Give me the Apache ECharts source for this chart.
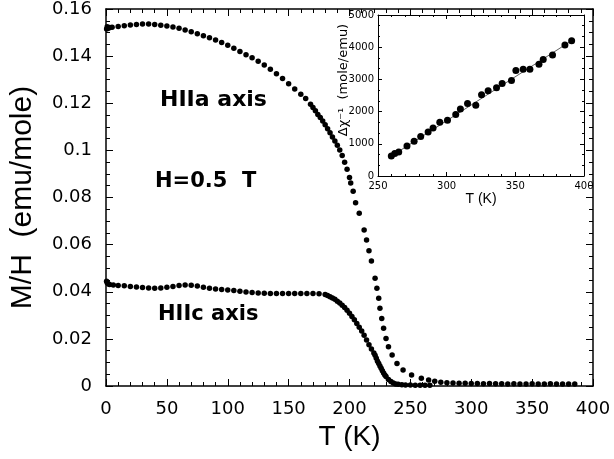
<!DOCTYPE html>
<html><head><meta charset="utf-8">
<script src="https://cdn.jsdelivr.net/npm/echarts@6/dist/echarts.min.js"></script>
<style>html,body{margin:0;padding:0;background:#fff}#c{width:614px;height:459px}</style>
</head><body><div id="c"></div>
<script>
// ---- data (T in K, M/H in emu/mole) ----
const haData = [
 [0.5,0.1515],[1,0.1525],[1.5,0.1520],[2,0.1518],[3,0.1522],[5,0.1523],[10,0.1526],[15,0.1529],[20,0.1532],[25,0.1534],
 [30,0.1536],[35,0.1536],[40,0.1534],[45,0.1531],[50,0.1528],[55,0.1524],[60,0.1518],[65,0.1511],[70,0.1503],[75,0.1495],
 [80,0.1487],[85,0.1478],[90,0.1468],[95,0.1458],[100,0.1446],[105,0.1433],[110,0.1420],[115,0.1406],[120,0.1393],[125,0.1378],
 [130,0.1362],[135,0.1344],[140,0.1325],[145,0.1305],[150,0.1283],[155,0.1260],[160,0.1238],[164,0.1220],[168,0.1196],[170,0.1182],
 [172,0.1168],[174,0.1152],[176,0.1139],[178,0.1125],[180,0.1109],[182,0.1092],[184,0.1075],[186,0.1057],[188,0.1040],[190,0.1022],
 [192,0.1002],[194,0.0978],[196,0.0950],[198,0.0920],[200,0.0885],[201,0.0862],[203,0.0827],[205,0.0778],[208,0.0733],[212,0.0662],
 [214,0.0620],[216,0.0574],[218,0.0531],[221,0.0457],[222.5,0.0415],[224,0.0372],[225,0.0330],[226.5,0.0287],[228,0.0245],[230,0.0202],
 [232,0.0167],[235,0.0132],[239,0.0096],[244,0.0068],[251,0.0047],[259,0.0033],[265,0.0025],[270,0.0020],[275,0.0016],[280,0.0014],
 [285,0.0013],[290,0.0012],[295,0.0012],[300,0.0011],[305,0.0011],[310,0.0010],[315,0.0011],[320,0.0010],[325,0.0010],[330,0.0009],
 [335,0.0010],[340,0.0009],[345,0.0009],[350,0.0010],[355,0.0009],[360,0.0009],[365,0.0010],[370,0.0009],[375,0.0009],[380,0.0009],[385,0.0008]
];
const hcData = [
 [0.5,0.0445],[1,0.0438],[2,0.0433],[3,0.0431],[6,0.0429],[10,0.0427],[15,0.0425],[20,0.0422],[25,0.0420],[30,0.0418],
 [35,0.0416],[40,0.0415],[45,0.0416],[50,0.0419],[55,0.0422],[60,0.0426],[65,0.0429],[70,0.0428],[75,0.0424],[80,0.0419],
 [85,0.0415],[90,0.0412],[95,0.0410],[100,0.0407],[105,0.0405],[110,0.0402],[115,0.0399],[120,0.0397],[125,0.0395],[130,0.0394],
 [135,0.0393],[140,0.0393],[145,0.0393],[150,0.0393],[155,0.0393],[160,0.0393],[165,0.0393],[170,0.0393],[175,0.0392],[180,0.0388],
 [182,0.0384],[184,0.0379],[186,0.0374],[188,0.0368],[190,0.0360],[192,0.0352],[194,0.0343],[196,0.0333],[198,0.0322],[200,0.0309],
 [202,0.0295],[204,0.0281],[206,0.0265],[208,0.0249],[210,0.0233],[212,0.0215],[214,0.0195],[216,0.0175],[218,0.0157],[220,0.0140],
 [221,0.0130],[222,0.0118],[223,0.0105],[224,0.0096],[225,0.0085],[226,0.0075],[227,0.0065],[228,0.0055],[229,0.0047],[230,0.0040],
 [232,0.0028],[234,0.0019],[236,0.0013],[238,0.0009],[240,0.0007],[243,0.0005],[246,0.0004],[250,0.0004],[254,0.0003],[258,0.0003],[262,0.0003],[266,0.0003]
];
// inset: inverse susceptibility (mole/emu) vs T (K)
const insetData = [
 [259.7,622],[262.2,695],[265.1,747],[271.1,933],[276.3,1079],[281.1,1224],[286.5,1369],[290.1,1493],[295.0,1670],[300.6,1732],
 [306.6,1908],[310.0,2084],[315.2,2250],[321.2,2198],[325.4,2520],[330.2,2644],[336.3,2738],[340.4,2872],[347.2,2966],[350.4,3277],
 [355.7,3318],[360.6,3318],[367.2,3474],[370.3,3619],[377.1,3754],[386.1,4065],[391.0,4200]
];
const insetFit = [[258,570],[392,4230]];
// ticks
const mainXTicks = [0,50,100,150,200,250,300,350,400];
const mainYTicks = [0,0.02,0.04,0.06,0.08,0.1,0.12,0.14,0.16];
const insetXTicks = [250,300,350,400];
const insetYTicks = [0,1000,2000,3000,4000,5000];

const BLK = '#000';
function ax(gridIndex, ticks, opts) {
  const base = {
    gridIndex, type:'value', min:ticks[0], max:ticks[ticks.length-1], interval:ticks[1]-ticks[0],
    axisLine:{show:true, onZero:false, lineStyle:{color:BLK, width:opts.lw}},
    axisTick:{show:true, inside:true, length:opts.tl, lineStyle:{color:BLK, width:1}},
    minorTick:{show:true, splitNumber:opts.ms, length:opts.ml, lineStyle:{color:BLK, width:1}},
    splitLine:{show:false}, minorSplitLine:{show:false},
    axisLabel:{show:opts.labels, color:BLK, fontFamily:'DejaVu Sans', fontSize:opts.fs, margin:opts.mg,
      formatter: v => String(+(+v).toFixed(2))}
  };
  return Object.assign(base, opts.extra || {});
}

const option = {
  backgroundColor:'#fff',
  animation:false,
  grid:[
    {left:106, right:21, top:8, bottom:73},
    {left:378, right:30, top:15, bottom:283, show:true, backgroundColor:'#fff', borderWidth:0, z:5}
  ],
  xAxis:[
    ax(0, mainXTicks, {lw:1.5, tl:7, ms:5, ml:4, labels:true, fs:18, mg:14,
      extra:{position:'bottom', name:'T (K)', nameLocation:'middle', nameGap:34,
        nameTextStyle:{color:BLK, fontFamily:'Liberation Sans', fontSize:28}}}),
    ax(0, mainXTicks, {lw:1.5, tl:7, ms:5, ml:4, labels:false, extra:{position:'top'}}),
    ax(1, insetXTicks, {lw:1, tl:4, ms:5, ml:2, labels:true, fs:10, mg:5,
      extra:{position:'bottom', z:6, name:'T (K)', nameLocation:'middle', nameGap:13,
        nameTextStyle:{color:BLK, fontFamily:'Liberation Sans', fontSize:14}}}),
    ax(1, insetXTicks, {lw:1, tl:4, ms:5, ml:2, labels:false, extra:{position:'top', z:6}})
  ],
  yAxis:[
    ax(0, mainYTicks, {lw:1.5, tl:7, ms:4, ml:4, labels:true, fs:18, mg:14,
      extra:{position:'left', name:'M/H  (emu/mole)', nameLocation:'middle', nameGap:68,
        nameTextStyle:{color:BLK, fontFamily:'Liberation Sans', fontSize:30}}}),
    ax(0, mainYTicks, {lw:1.5, tl:7, ms:4, ml:4, labels:false, extra:{position:'right'}}),
    ax(1, insetYTicks, {lw:1, tl:4, ms:3, ml:2, labels:true, fs:10, mg:4, extra:{position:'left', z:6}}),
    ax(1, insetYTicks, {lw:1, tl:4, ms:3, ml:2, labels:false, extra:{position:'right', z:6}})
  ],
  series:[
    {type:'scatter', xAxisIndex:0, yAxisIndex:0, data:haData, symbol:'circle', symbolSize:5.5, itemStyle:{color:BLK, opacity:1}},
    {type:'scatter', xAxisIndex:0, yAxisIndex:0, data:hcData, symbol:'circle', symbolSize:5.5, itemStyle:{color:BLK, opacity:1}},
    {type:'line', xAxisIndex:2, yAxisIndex:2, data:insetFit, showSymbol:false, z:6,
      lineStyle:{color:'#333', width:0.8}},
    {type:'scatter', xAxisIndex:2, yAxisIndex:2, data:insetData, symbol:'circle', symbolSize:7, z:7, itemStyle:{color:BLK, opacity:1}}
  ],
  graphic:[
    {type:'text', left:160, top:89, z:10, style:{text:'HIIa axis', fill:BLK, fontFamily:'DejaVu Sans', fontWeight:'bold', fontSize:22}},
    {type:'text', left:155, top:171, z:10, style:{text:'H=0.5  T', fill:BLK, fontFamily:'DejaVu Sans', fontWeight:'bold', fontSize:21}},
    {type:'text', left:158, top:304, z:10, style:{text:'HIIc axis', fill:BLK, fontFamily:'DejaVu Sans', fontWeight:'bold', fontSize:21}},
    {type:'text', x:344, y:80, rotation:Math.PI/2, z:10,
      style:{text:'Δχ⁻¹  (mole/emu)', fill:BLK, fontFamily:'DejaVu Sans', fontSize:13, align:'center', verticalAlign:'middle'}}
  ]
};
echarts.init(document.getElementById('c'), null, {renderer:'canvas'}).setOption(option);
</script>
</body></html>
